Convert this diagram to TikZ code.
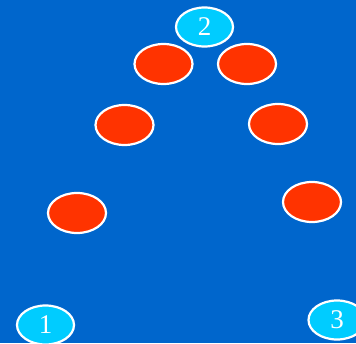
\documentclass[tikz,border=0pt]{standalone}
\usepackage{fontspec}
\setmainfont{Liberation Serif}
\usetikzlibrary{shapes.geometric}
\definecolor{bg}{HTML}{0066CC}
\definecolor{redfill}{HTML}{FF3300}
\definecolor{cyanfill}{HTML}{00CCFF}
\tikzset{
  numnode/.style={ellipse, draw=white, line width=2.2pt, fill=cyanfill, minimum width=57pt, minimum height=39pt, inner sep=0pt, text=white, font=\fontsize{27}{27}\selectfont},
  rednode/.style={ellipse, draw=white, line width=2.2pt, fill=redfill, minimum width=58pt, minimum height=40pt, inner sep=0pt}
}
\begin{document}
\begin{tikzpicture}[x=1pt,y=-1pt]
\fill[bg] (0,0) rectangle (356,343);
\useasboundingbox (0,0) rectangle (356,343);
\node[rednode] (r1) at (163.5,64) {};
\node[rednode] (r2) at (247,64) {};
\node[rednode] (r3) at (124.5,125) {};
\node[rednode] (r4) at (278,124) {};
\node[rednode] (r5) at (77,213) {};
\node[rednode] (r6) at (312,202) {};
\node[numnode] (n2) at (204.5,27) {2};
\node[numnode] (n1) at (45.5,325) {1};
\node[numnode] (n3) at (337,320) {3};
\end{tikzpicture}
\end{document}
